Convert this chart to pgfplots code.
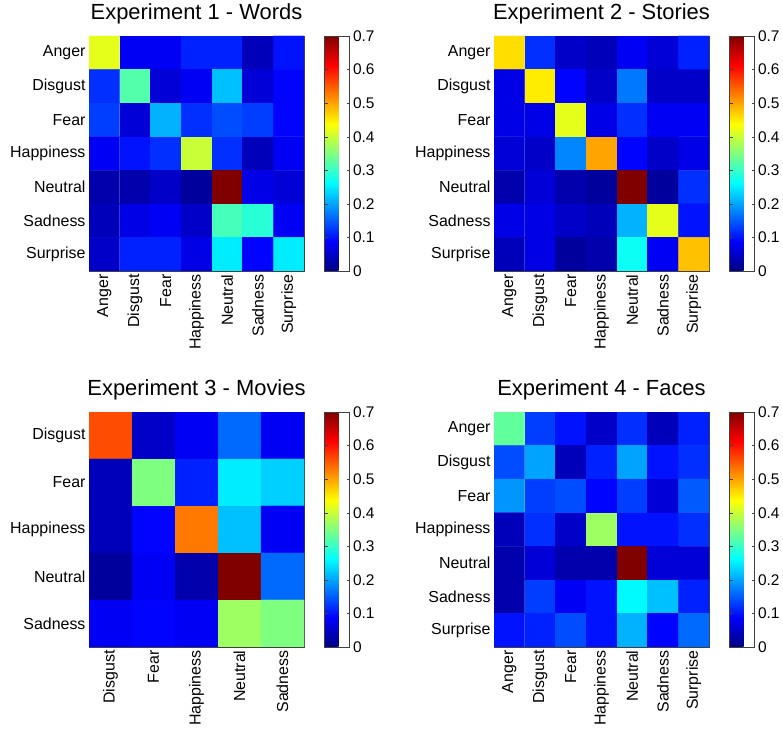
\documentclass[border=0pt]{standalone}
\usepackage{pgfplots}
\pgfplotsset{compat=1.18}
\usepackage{fontspec}
\setmainfont{Liberation Sans}
\newcommand{\tickfont}{\fontsize{16}{18}\selectfont}
\newcommand{\cbfont}{\fontsize{15.5}{17}\selectfont}
\newcommand{\titlefont}{\fontsize{22}{24}\selectfont}
\pgfplotsset{
  hm/.style={
    scale only axis, width=215bp, height=235bp,
    colormap/jet, point meta min=0, point meta max=0.7,
    enlargelimits=false, y dir=reverse,
    axis line style={black!75, line width=0.5bp},
    tick align=inside, major tick length=3bp,
    tick style={black!75, line width=0.4bp},
    ticklabel style={font=\tickfont},
    xticklabel style={rotate=90, anchor=east},
    title style={font=\titlefont, at={(0.5,1)}, anchor=base, yshift=11bp},
    anchor=north west,
    colorbar,
    colorbar style={
      width=25bp, at={(parent axis.north east)}, anchor=north west, xshift=12bp,
      ytick={0,0.1,0.2,0.3,0.4,0.5,0.6,0.7},
      yticklabel style={font=\cbfont, /pgf/number format/fixed, /pgf/number format/precision=1},
      /pgf/number format/assume math mode=true,
      axis line style={black!75, line width=0.5bp},
      tick align=inside, major tick length=3bp,
    },
    /pgf/number format/assume math mode=true,
  },
  seven/.style={
    xmin=-0.5, xmax=6.5, ymin=-0.5, ymax=6.5,
    xtick={0,...,6}, ytick={0,...,6},
    xticklabels={Anger,Disgust,Fear,Happiness,Neutral,Sadness,Surprise},
    yticklabels={Anger,Disgust,Fear,Happiness,Neutral,Sadness,Surprise},
  },
}
\begin{document}
\begin{tikzpicture}
\useasboundingbox (0bp,0bp) rectangle (783bp,734bp);

% Experiment 1 - Words
\begin{axis}[hm, seven, at={(89bp,698bp)}, title={Experiment 1 - Words}]
\addplot[matrix plot*, mesh/cols=7, mesh/rows=7, point meta=explicit] coordinates {
(0,0)[0.42] (1,0)[0.08] (2,0)[0.08] (3,0)[0.11] (4,0)[0.11] (5,0)[0.04] (6,0)[0.10]

(0,1)[0.12] (1,1)[0.32] (2,1)[0.06] (3,1)[0.08] (4,1)[0.22] (5,1)[0.06] (6,1)[0.09]

(0,2)[0.13] (1,2)[0.06] (2,2)[0.21] (3,2)[0.12] (4,2)[0.14] (5,2)[0.13] (6,2)[0.09]

(0,3)[0.08] (1,3)[0.10] (2,3)[0.12] (3,3)[0.40] (4,3)[0.12] (5,3)[0.04] (6,3)[0.08]

(0,4)[0.03] (1,4)[0.03] (2,4)[0.05] (3,4)[0.02] (4,4)[0.70] (5,4)[0.07] (6,4)[0.06]

(0,5)[0.04] (1,5)[0.07] (2,5)[0.08] (3,5)[0.05] (4,5)[0.31] (5,5)[0.29] (6,5)[0.08]

(0,6)[0.05] (1,6)[0.11] (2,6)[0.11] (3,6)[0.07] (4,6)[0.25] (5,6)[0.09] (6,6)[0.25]
};
\end{axis}

% Experiment 2 - Stories
\begin{axis}[hm, seven, at={(494bp,698bp)}, title={Experiment 2 - Stories}]
\addplot[matrix plot*, mesh/cols=7, mesh/rows=7, point meta=explicit] coordinates {
(0,0)[0.46] (1,0)[0.12] (2,0)[0.05] (3,0)[0.04] (4,0)[0.08] (5,0)[0.06] (6,0)[0.11]

(0,1)[0.07] (1,1)[0.45] (2,1)[0.09] (3,1)[0.05] (4,1)[0.17] (5,1)[0.05] (6,1)[0.05]

(0,2)[0.07] (1,2)[0.07] (2,2)[0.42] (3,2)[0.07] (4,2)[0.12] (5,2)[0.08] (6,2)[0.08]

(0,3)[0.06] (1,3)[0.05] (2,3)[0.18] (3,3)[0.50] (4,3)[0.09] (5,3)[0.05] (6,3)[0.07]

(0,4)[0.03] (1,4)[0.06] (2,4)[0.03] (3,4)[0.02] (4,4)[0.70] (5,4)[0.02] (6,4)[0.12]

(0,5)[0.07] (1,5)[0.07] (2,5)[0.05] (3,5)[0.04] (4,5)[0.21] (5,5)[0.42] (6,5)[0.10]

(0,6)[0.04] (1,6)[0.07] (2,6)[0.02] (3,6)[0.03] (4,6)[0.27] (5,6)[0.08] (6,6)[0.48]
};
\end{axis}

% Experiment 3 - Movies
\begin{axis}[hm, at={(89bp,322bp)}, title={Experiment 3 - Movies},
  xmin=-0.5, xmax=4.5, ymin=-0.5, ymax=4.5,
  xtick={0,...,4}, ytick={0,...,4},
  xticklabels={Disgust,Fear,Happiness,Neutral,Sadness},
  yticklabels={Disgust,Fear,Happiness,Neutral,Sadness}]
\addplot[matrix plot*, mesh/cols=5, mesh/rows=5, point meta=explicit] coordinates {
(0,0)[0.56] (1,0)[0.05] (2,0)[0.08] (3,0)[0.16] (4,0)[0.08]

(0,1)[0.04] (1,1)[0.35] (2,1)[0.11] (3,1)[0.25] (4,1)[0.23]

(0,2)[0.04] (1,2)[0.09] (2,2)[0.53] (3,2)[0.22] (4,2)[0.08]

(0,3)[0.02] (1,3)[0.08] (2,3)[0.03] (3,3)[0.70] (4,3)[0.16]

(0,4)[0.08] (1,4)[0.09] (2,4)[0.08] (3,4)[0.37] (4,4)[0.35]
};
\end{axis}

% Experiment 4 - Faces
\begin{axis}[hm, seven, at={(494bp,322bp)}, title={Experiment 4 - Faces}]
\addplot[matrix plot*, mesh/cols=7, mesh/rows=7, point meta=explicit] coordinates {
(0,0)[0.33] (1,0)[0.13] (2,0)[0.10] (3,0)[0.05] (4,0)[0.12] (5,0)[0.04] (6,0)[0.11]

(0,1)[0.14] (1,1)[0.20] (2,1)[0.04] (3,1)[0.11] (4,1)[0.20] (5,1)[0.10] (6,1)[0.12]

(0,2)[0.19] (1,2)[0.13] (2,2)[0.14] (3,2)[0.09] (4,2)[0.13] (5,2)[0.06] (6,2)[0.15]

(0,3)[0.04] (1,3)[0.12] (2,3)[0.05] (3,3)[0.37] (4,3)[0.10] (5,3)[0.10] (6,3)[0.12]

(0,4)[0.03] (1,4)[0.06] (2,4)[0.03] (3,4)[0.03] (4,4)[0.70] (5,4)[0.06] (6,4)[0.06]

(0,5)[0.03] (1,5)[0.13] (2,5)[0.08] (3,5)[0.10] (4,5)[0.26] (5,5)[0.22] (6,5)[0.11]

(0,6)[0.10] (1,6)[0.11] (2,6)[0.14] (3,6)[0.10] (4,6)[0.21] (5,6)[0.09] (6,6)[0.16]
};
\end{axis}
\end{tikzpicture}
\end{document}
